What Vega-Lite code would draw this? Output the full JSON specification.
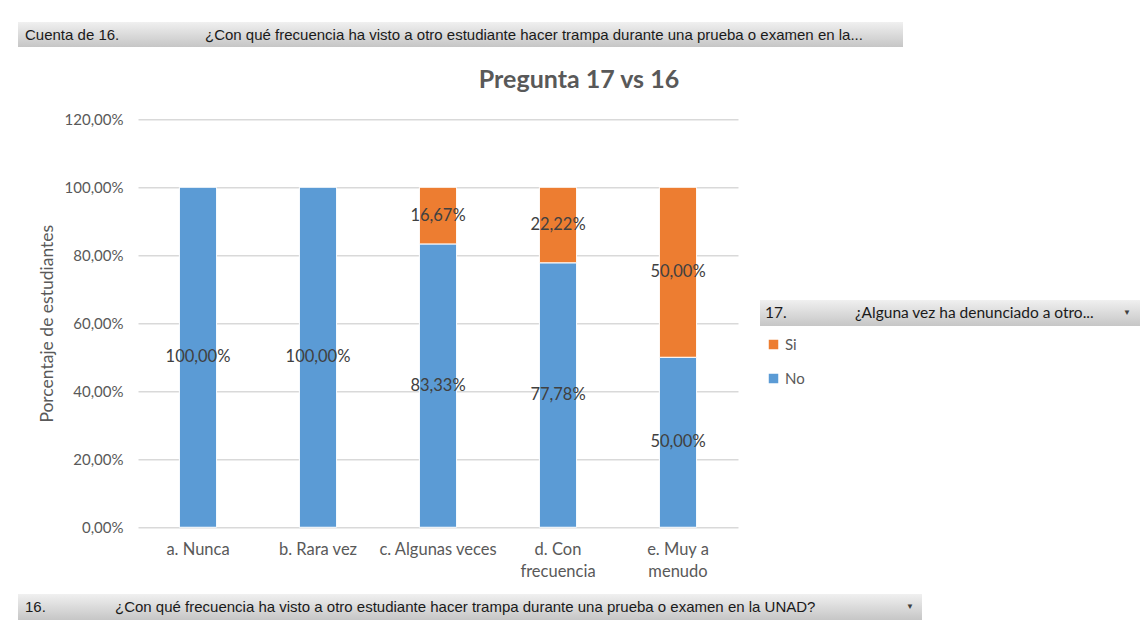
{
  "$schema": "https://vega.github.io/schema/vega-lite/v6.json",
  "background": "white",
  "padding": {"left": 18, "top": 22, "right": 2, "bottom": 4},
  "config": {
    "locale": {"number": {"decimal": ",", "thousands": ".", "grouping": [3], "currency": ["", " €"]}},
    "font": "Lato",
    "view": {"stroke": null}
  },
  "spacing": 14,
  "vconcat": [
    {
      "width": 885,
      "height": 25,
      "view": {"fill": {"gradient": "linear", "x1": 0, "y1": 0, "x2": 0, "y2": 1, "stops": [{"offset": 0, "color": "#f0f0f0"}, {"offset": 1, "color": "#c6c6c6"}]}, "stroke": null},
      "data": {"values": [{"t": "Cuenta de 16."}, {"t": "¿Con qué frecuencia ha visto a otro estudiante hacer trampa durante una prueba o examen en la..."}]},
      "mark": {"type": "text", "align": "left", "baseline": "middle", "font": "Liberation Sans", "fontSize": 15, "color": "#1a1a1a"},
      "encoding": {
        "x": {"field": "t", "type": "nominal", "sort": null, "scale": {"type": "point", "range": [7, 187], "padding": 0}, "axis": null},
        "text": {"field": "t"}
      }
    },
    {
      "title": {"text": [" ", "Pregunta 17 vs 16"], "lineHeight": 7, "anchor": "middle", "fontSize": 25, "fontWeight": "bold", "color": "#595959", "offset": 19},
      "spacing": 0,
      "hconcat": [
        {
          "width": 0,
          "height": 0,
          "data": {"values": []},
          "mark": "point"
        },
        {
          "center": true,
          "spacing": 22,
          "hconcat": [
            {
              "width": 600,
              "height": 408,
              "data": {"values": [
                {"categoria": "a. Nunca", "respuesta": "No", "pct": 1.0},
                {"categoria": "b. Rara vez", "respuesta": "No", "pct": 1.0},
                {"categoria": "c. Algunas veces", "respuesta": "No", "pct": 0.8333},
                {"categoria": "c. Algunas veces", "respuesta": "Si", "pct": 0.1667},
                {"categoria": "d. Con frecuencia", "respuesta": "No", "pct": 0.7778},
                {"categoria": "d. Con frecuencia", "respuesta": "Si", "pct": 0.2222},
                {"categoria": "e. Muy a menudo", "respuesta": "No", "pct": 0.5},
                {"categoria": "e. Muy a menudo", "respuesta": "Si", "pct": 0.5}
              ]},
              "encoding": {
                "x": {
                  "field": "categoria", "type": "nominal", "sort": null,
                  "scale": {"paddingInner": 0.69, "paddingOuter": 0.345},
                  "axis": {
                    "title": null, "labelAngle": 0, "ticks": false, "domain": false,
                    "labelFontSize": 16.5, "labelColor": "#595959", "labelPadding": 14,
                    "labelLineHeight": 22, "labelBaseline": "top",
                    "labelExpr": "datum.value == 'd. Con frecuencia' ? ['d. Con', 'frecuencia'] : datum.value == 'e. Muy a menudo' ? ['e. Muy a', 'menudo'] : datum.value"
                  }
                },
                "order": {"field": "respuesta", "sort": "ascending"}
              },
              "layer": [
                {
                  "mark": {"type": "bar", "stroke": "white", "strokeWidth": 1},
                  "encoding": {
                    "y": {
                      "field": "pct", "type": "quantitative", "stack": "zero",
                      "scale": {"domain": [0, 1.2], "nice": false},
                      "axis": {
                        "values": [0, 0.2, 0.4, 0.6, 0.8, 1.0, 1.2], "format": ".2%",
                        "domain": false, "ticks": false, "grid": true, "gridColor": "#d9d9d9", "gridWidth": 1.5,
                        "labelFontSize": 15, "labelColor": "#595959", "labelPadding": 15,
                        "title": "Porcentaje de estudiantes", "titleFontSize": 17.5, "titleFontWeight": "normal",
                        "titleColor": "#595959", "titlePadding": 8
                      }
                    },
                    "color": {
                      "field": "respuesta", "type": "nominal",
                      "scale": {"domain": ["Si", "No"], "range": ["#ed7d31", "#5b9bd5"]},
                      "legend": {
                        "orient": "none", "legendX": 748, "legendY": 315, "title": null,
                        "symbolType": "square", "symbolSize": 90, "symbolStrokeWidth": 0,
                        "labelFontSize": 15, "labelColor": "#595959", "labelOffset": 4, "rowPadding": 18
                      }
                    }
                  }
                },
                {
                  "mark": {"type": "text", "fontSize": 16.5, "color": "#404040", "baseline": "middle"},
                  "encoding": {
                    "y": {"field": "pct", "type": "quantitative", "stack": "zero", "bandPosition": 0.5},
                    "text": {"field": "pct", "type": "quantitative", "format": ".2%"},
                    "detail": {"field": "respuesta"}
                  }
                }
              ]
            },
            {
              "spacing": 0,
              "vconcat": [
                {
                  "width": 380,
                  "height": 26,
                  "view": {"fill": {"gradient": "linear", "x1": 0, "y1": 0, "x2": 0, "y2": 1, "stops": [{"offset": 0, "color": "#f0f0f0"}, {"offset": 1, "color": "#c6c6c6"}]}, "stroke": null},
                  "resolve": {"scale": {"x": "independent"}},
                  "layer": [
                    {
                      "data": {"values": [{"t": "17."}, {"t": "¿Alguna vez ha denunciado a otro..."}]},
                      "mark": {"type": "text", "align": "left", "baseline": "middle", "font": "Lato", "fontSize": 15.5, "color": "#1a1a1a"},
                      "encoding": {
                        "x": {"field": "t", "type": "nominal", "sort": null, "scale": {"type": "point", "range": [5, 95], "padding": 0}, "axis": null},
                        "text": {"field": "t"}
                      }
                    },
                    {
                      "data": {"values": [{"a": "▼"}]},
                      "mark": {"type": "text", "align": "center", "baseline": "middle", "fontSize": 8, "color": "#404040"},
                      "encoding": {
                        "x": {"field": "a", "type": "nominal", "scale": {"type": "point", "range": [367, 367], "padding": 0}, "axis": null},
                        "text": {"field": "a"}
                      }
                    }
                  ]
                },
                {
                  "width": 380,
                  "height": 73,
                  "data": {"values": []},
                  "mark": "point"
                }
              ]
            }
          ]
        }
      ]
    },
    {
      "width": 904,
      "height": 26,
      "view": {"fill": {"gradient": "linear", "x1": 0, "y1": 0, "x2": 0, "y2": 1, "stops": [{"offset": 0, "color": "#f0f0f0"}, {"offset": 1, "color": "#c6c6c6"}]}, "stroke": null},
      "resolve": {"scale": {"x": "independent"}},
      "layer": [
        {
          "data": {"values": [{"t": "16."}, {"t": "¿Con qué frecuencia ha visto a otro estudiante hacer trampa durante una prueba o examen en la UNAD?"}]},
          "mark": {"type": "text", "align": "left", "baseline": "middle", "font": "Liberation Sans", "fontSize": 15, "color": "#1a1a1a"},
          "encoding": {
            "x": {"field": "t", "type": "nominal", "sort": null, "scale": {"type": "point", "range": [7, 97], "padding": 0}, "axis": null},
            "text": {"field": "t"}
          }
        },
        {
          "data": {"values": [{"a": "▼"}]},
          "mark": {"type": "text", "align": "center", "baseline": "middle", "fontSize": 8, "color": "#404040"},
          "encoding": {
            "x": {"field": "a", "type": "nominal", "scale": {"type": "point", "range": [892, 892], "padding": 0}, "axis": null},
            "text": {"field": "a"}
          }
        }
      ]
    }
  ]
}
